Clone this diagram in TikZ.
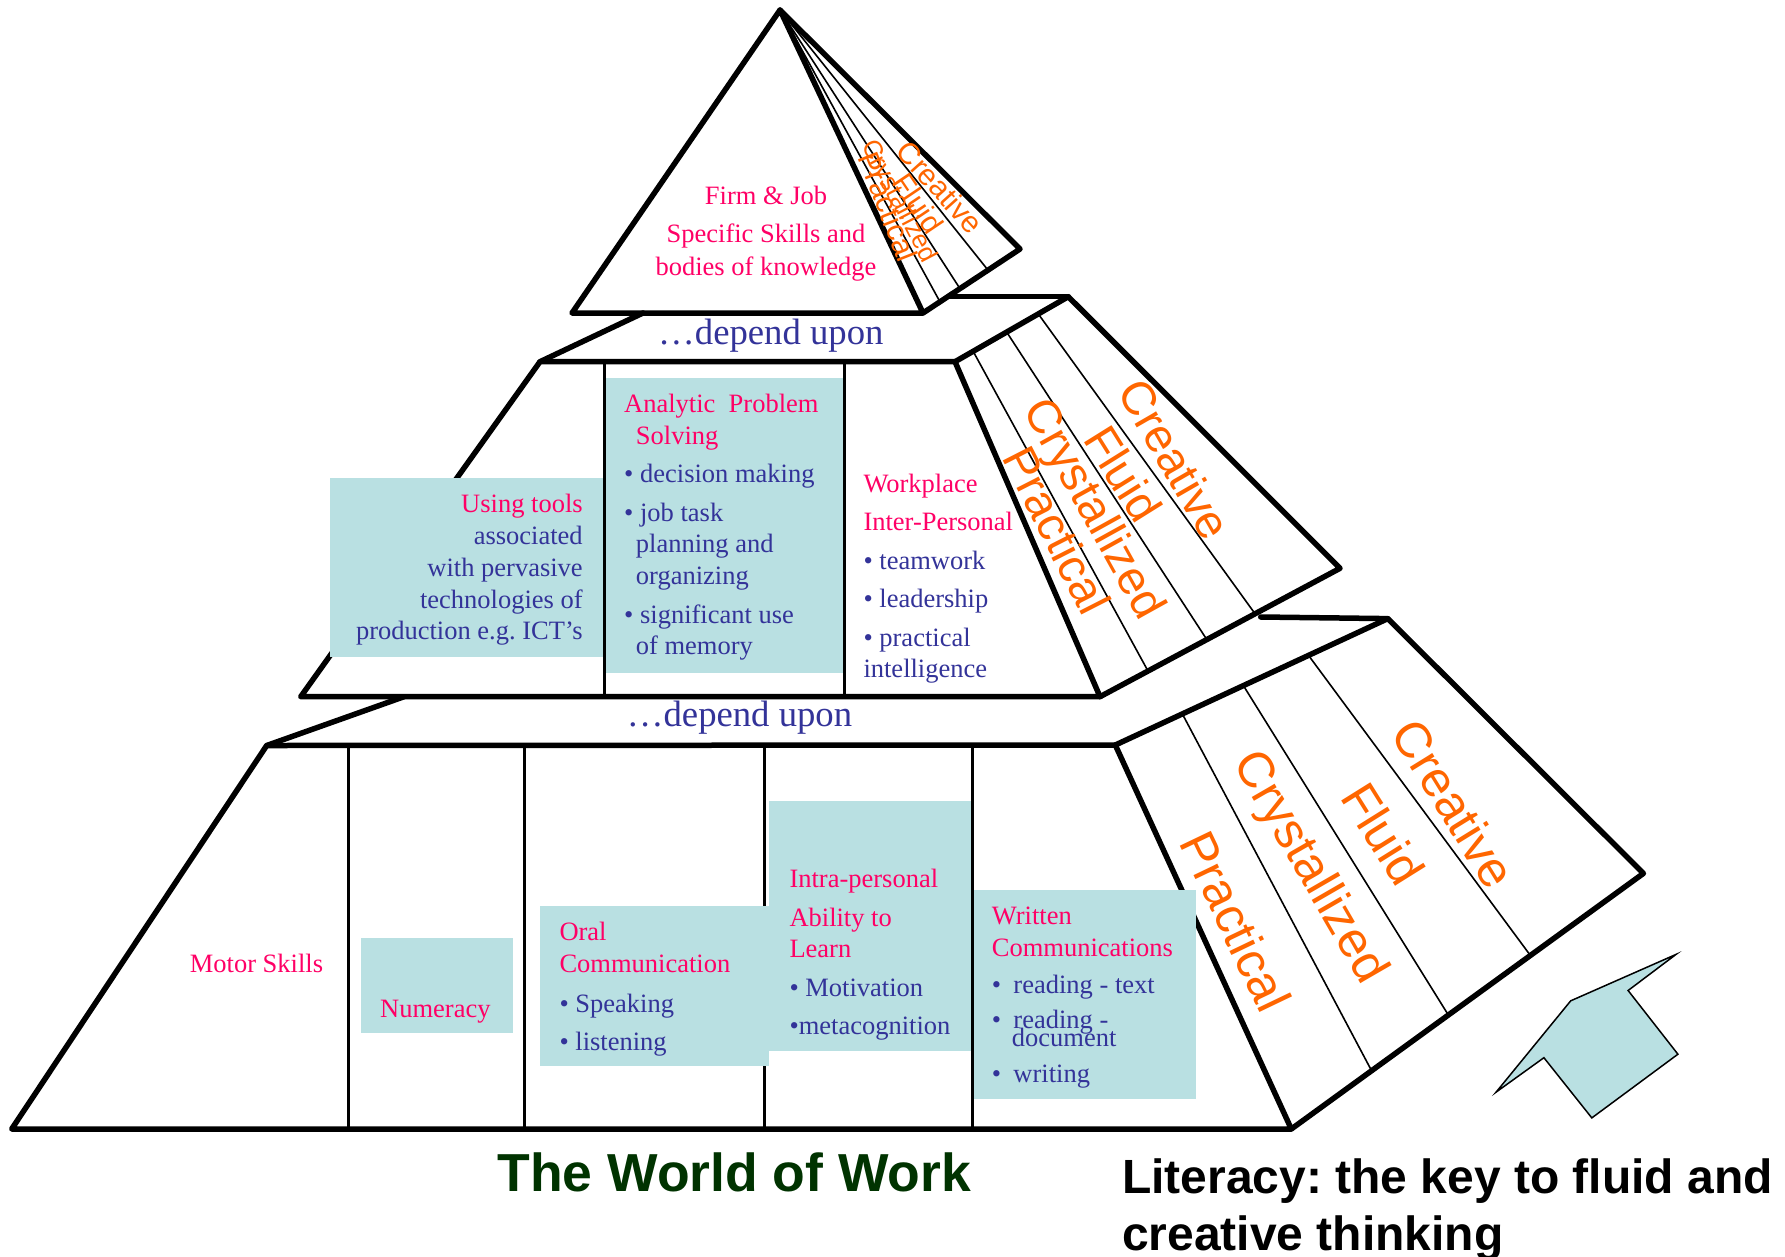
\documentclass[tikz,border=0pt]{standalone}
\usepackage{fontspec}
\setmainfont{Liberation Serif}
\newfontfamily\arialf{Liberation Sans}
\usetikzlibrary{calc}
\definecolor{pk}{HTML}{FF0066}
\definecolor{bl}{HTML}{333399}
\definecolor{og}{HTML}{FF6600}
\definecolor{cy}{HTML}{B9E0E2}
\definecolor{dg}{HTML}{003300}
\frenchspacing
\newcommand\pkt[1]{{\color{pk}#1}}
\newcommand\blkL[2]{\vtop{\baselineskip=#1\lineskiplimit=-100pt\lineskip=0pt\halign{##\hfil\cr#2\crcr}}}
\newcommand\blkR[2]{\vtop{\baselineskip=#1\lineskiplimit=-100pt\lineskip=0pt\halign{\hfil##\cr#2\crcr}}}
\newcommand\blkC[2]{\vtop{\baselineskip=#1\lineskiplimit=-100pt\lineskip=0pt\halign{\hfil##\hfil\cr#2\crcr}}}
\tikzset{
  outl/.style={line width=5.5pt, line join=round, line cap=round},
  divl/.style={line width=3pt},
  thinl/.style={line width=1.6pt},
  cbox/.style={fill=cy, draw=none},
  txt/.style={inner sep=0pt, text=bl, font=\frenchspacing\fontsize{26.5}{31.8}\selectfont},
  dep/.style={inner sep=0pt, text=bl, font=\fontsize{36.7}{40}\selectfont},
  lab/.style={inner sep=0pt, text=og},
}
\begin{document}
\begin{tikzpicture}[x=1pt,y=-1pt]
\useasboundingbox (0,0) rectangle (1785,1256);
\fill[white] (0,0) rectangle (1785,1256);

% ---------- coordinates ----------
\coordinate (tA) at (780,10);
\coordinate (tL) at (572,313);
\coordinate (tR) at (923,313);
\coordinate (tS) at (1020,249);

\coordinate (mTL) at (540,361.7);
\coordinate (mTR) at (955,361.7);
\coordinate (mBL) at (300.7,696.7);
\coordinate (mBR) at (1100,696.7);
\coordinate (mK) at (1068.3,296.7);
\coordinate (mS) at (1340,568.3);
\coordinate (mBk) at (643,313);
\coordinate (mBk2) at (950,296.7);

\coordinate (bTL) at (266.7,745.5);
\coordinate (bTR) at (1115.3,745);
\coordinate (bBL) at (11.7,1129);
\coordinate (bBR) at (1291.3,1129);
\coordinate (bK) at (1387.8,618.6);
\coordinate (bS) at (1643.4,873.4);
\coordinate (bBk) at (404,696.7);
\coordinate (bBk2) at (1260.7,617);

% ---------- bottom tier ----------
\draw[outl] (bTL) -- (bBk);
\draw[outl] (bBk2) -- (bK);
\draw[outl] (bTL) -- (bTR) -- (bBR) -- (bBL) -- cycle;
\draw[outl] (bTR) -- (bK) -- (bS) -- (bBR);
\draw[thinl] ($(bTR)!0.246!(bK)$) -- ($(bBR)!0.228!(bS)$);
\draw[thinl] ($(bTR)!0.47!(bK)$) -- ($(bBR)!0.446!(bS)$);
\draw[thinl] ($(bTR)!0.709!(bK)$) -- ($(bBR)!0.679!(bS)$);
\foreach \xx/\nm in {348.3/d1,524/d2,764.3/d3,972.5/d4}{
  \coordinate (\nm t) at (\xx,745.5);
  \coordinate (\nm b) at (\xx,1129);
  \draw[divl] (\nm t) -- (\nm b);
}

% ---------- middle tier ----------
\draw[outl] (mTL) -- (mBk);
\draw[outl] (mBk2) -- (mK);
\draw[outl] (mTL) -- (mTR) -- (mBR) -- (mBL) -- cycle;
\draw[outl] (mTR) -- (mK) -- (mS) -- (mBR);
\draw[thinl] ($(mTR)!0.16!(mK)$) -- ($(mBR)!0.2!(mS)$);
\draw[thinl] ($(mTR)!0.456!(mK)$) -- ($(mBR)!0.445!(mS)$);
\draw[thinl] ($(mTR)!0.735!(mK)$) -- ($(mBR)!0.646!(mS)$);
\foreach \xx/\nm in {604.3/e1,844.3/e2}{
  \coordinate (\nm t) at (\xx,361.7);
  \coordinate (\nm b) at (\xx,696.7);
  \draw[divl] (\nm t) -- (\nm b);
}

% ---------- top pyramid ----------
\draw[outl] (tL) -- (tA) -- (tR) -- cycle;
\draw[outl] (tA) -- (tS) -- (tR);
\draw[thinl] (tA) -- ($(tR)!0.175!(tS)$);
\draw[thinl] (tA) -- ($(tR)!0.381!(tS)$);
\draw[thinl] (tA) -- ($(tR)!0.67!(tS)$);

% ---------- coloured boxes ----------
\fill[cbox] (330,478.3) rectangle (602.5,656.7);
\fill[cbox] (606,378.3) rectangle (842.8,672.7);
\fill[cbox] (361,938.3) rectangle (512.7,1033.3);
\fill[cbox] (540,906) rectangle (769.3,1065.7);
\fill[cbox] (768.5,801) rectangle (970.7,1050.7);
\fill[cbox] (974,890) rectangle (1196,1098.7);

% ---------- arrow ----------
\coordinate (a1) at (1676.0,954.4);
\coordinate (a2) at (1628.1,990.5);
\coordinate (a3) at (1677.9,1054.2);
\coordinate (a4) at (1591.8,1117.9);
\coordinate (a5) at (1543.9,1057.7);
\coordinate (a6) at (1496.1,1092.1);
\coordinate (a7) at (1570.7,1000.8);
\draw[fill=cy, line width=1.5pt] (a1) -- (a2) -- (a3) -- (a4) -- (a5) -- (a6) -- (a7) -- cycle;

% ---------- texts ----------
\node[txt, anchor=base, text=pk] (firm) at (766,204)
  {\blkC{32.3pt}{Firm \& Job\cr\noalign{\vskip6.4pt}Specific Skills and\cr bodies of knowledge\cr}};

\node[dep, anchor=base west] (dep1) at (658,344) {…depend upon};
\node[dep, anchor=base west] (dep2) at (626.7,726.7) {…depend upon};

\node[txt, anchor=base east] (tools) at (582.9,512.7)
  {\blkR{31.8pt}{\pkt{Using tools}\cr associated\cr with pervasive\cr technologies of\cr production e.g. ICT’s\cr}};

\node[txt, anchor=base west] (analytic) at (624,412.7)
  {\blkL{31.8pt}{\pkt{Analytic\ \ Problem}\cr
  \pkt{\hskip11.7pt Solving}\cr\noalign{\vskip6.5pt}
  • decision making\cr\noalign{\vskip6.5pt}
  • job task\cr
  \hskip11.7pt planning and\cr
  \hskip11.7pt organizing\cr\noalign{\vskip6.5pt}
  • significant use\cr
  \hskip11.7pt of memory\cr}};

\node[txt, anchor=base west] (workplace) at (863.3,492.3)
  {\blkL{31.5pt}{\pkt{Workplace}\cr\noalign{\vskip7pt}
  \pkt{Inter-Personal}\cr\noalign{\vskip7pt}
  • teamwork\cr\noalign{\vskip7pt}
  • leadership\cr\noalign{\vskip7pt}
  • practical\cr
  intelligence\cr}};

\node[txt, anchor=base east, text=pk] (motor) at (323.3,972.7) {Motor Skills};
\node[txt, anchor=base west, text=pk] (numeracy) at (380,1017.7) {Numeracy};

\node[txt, anchor=base west] (oral) at (559.3,940.7)
  {\blkL{32pt}{\pkt{Oral}\cr
  \pkt{Communication}\cr\noalign{\vskip8pt}
  • Speaking\cr\noalign{\vskip5.3pt}
  • listening\cr}};

\node[txt, anchor=base west] (intra) at (789.3,887.7)
  {\blkL{31.7pt}{\pkt{Intra-personal}\cr\noalign{\vskip6.6pt}
  \pkt{Ability to}\cr
  \pkt{Learn}\cr\noalign{\vskip6.6pt}
  • Motivation\cr\noalign{\vskip6.6pt}
  •metacognition\cr}};

\node[txt, anchor=base west] (written) at (991.7,924.3)
  {\blkL{32.4pt}{\pkt{Written}\cr
  \pkt{Communications}\cr\noalign{\vskip4.2pt}
  •\hskip12.3pt reading - text\cr\noalign{\vskip2.6pt}
  •\hskip12.3pt reading -\cr\noalign{\vskip-14pt}
  \hskip20pt document\cr\noalign{\vskip3.6pt}
  •\hskip12.3pt writing\cr}};

% ---------- orange labels ----------
\node[lab, font=\arialf\fontsize{30}{30}\selectfont, rotate=-48] (tcre) at (940,187.3) {Creative};
\node[lab, font=\arialf\fontsize{30}{30}\selectfont, rotate=-56] (tflu) at (918.3,203.3) {Fluid};
\node[lab, font=\arialf\fontsize{26}{26}\selectfont, rotate=-62.5] (tcry) at (898.3,201.7) {Crystallized};
\node[lab, font=\arialf\fontsize{30}{30}\selectfont, rotate=-68.5] (tpra) at (888.3,206.7) {Practical};

\node[lab, font=\arialf\fontsize{47}{47}\selectfont, rotate=-60] (mcre) at (1175,459) {Creative};
\node[lab, font=\arialf\fontsize{47}{47}\selectfont, rotate=-58] (mflu) at (1123.3,473.3) {Fluid};
\node[lab, font=\arialf\fontsize{47}{47}\selectfont, rotate=-61] (mcry) at (1092,510) {Crystallized};
\node[lab, font=\arialf\fontsize{47}{47}\selectfont, rotate=-63] (mpra) at (1057,530) {Practical};

\node[lab, font=\arialf\fontsize{50}{50}\selectfont, rotate=-58.3] (bcre) at (1454,803.5) {Creative};
\node[lab, font=\arialf\fontsize{50}{50}\selectfont, rotate=-58] (bflu) at (1383.2,833.8) {Fluid};
\node[lab, font=\arialf\fontsize{50}{50}\selectfont, rotate=-60] (bcry) at (1308.6,868.3) {Crystallized};
\node[lab, font=\arialf\fontsize{50}{50}\selectfont, rotate=-64.4] (bpra) at (1236,921.6) {Practical};

% ---------- captions ----------
\node[inner sep=0pt, anchor=base west, text=dg, font=\arialf\bfseries\fontsize{53.5}{60}\selectfont] (world) at (497.3,1191.7) {The World of Work};
\node[inner sep=0pt, anchor=base west, text=black, font=\arialf\bfseries\frenchspacing\fontsize{48}{57}\selectfont] (literacy) at (1122,1193.7)
  {\blkL{57pt}{Literacy: the key to fluid and\cr creative thinking\cr}};
\end{tikzpicture}
\end{document}
